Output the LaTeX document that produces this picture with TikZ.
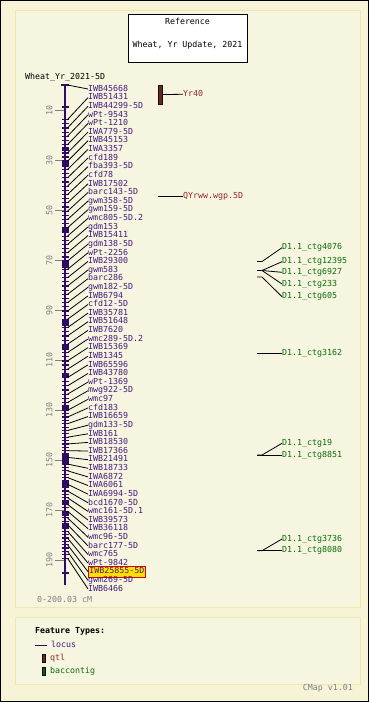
\documentclass[tikz,border=0pt]{standalone}
\usepackage{fontspec}
\setmainfont{DejaVu Sans Mono}
\definecolor{outerbg}{RGB}{246,243,214}
\definecolor{panelbg}{RGB}{245,245,224}
\definecolor{panelbd}{RGB}{238,232,170}
\definecolor{locuscol}{RGB}{48,10,100}
\definecolor{locustxt}{RGB}{70,25,125}
\definecolor{qtlcol}{RGB}{100,40,40}
\definecolor{qtltxt}{RGB}{150,40,40}
\definecolor{bacfill}{RGB}{25,80,25}
\definecolor{bactxt}{RGB}{10,110,10}
\definecolor{scalegray}{RGB}{128,128,128}
\definecolor{hlyellow}{RGB}{255,225,0}
\definecolor{hlred}{RGB}{210,0,0}
\begin{document}
\begin{tikzpicture}[x=1pt,y=-1pt,
  font=\fontsize{8.3}{10}\selectfont,
  txt/.style={inner sep=0pt,text height=6pt,text depth=1.5pt},
  loclab/.style={txt,anchor=west,text=locustxt},
  hilite/.style={fill=hlyellow,draw=hlred,line width=0.9pt,inner xsep=1pt,inner ysep=1.5pt},
  baclab/.style={txt,anchor=west,text=bactxt},
  qtllab/.style={txt,anchor=west,text=qtltxt},
  graylab/.style={txt,text=scalegray},
  conn/.style={black,line width=0.8pt},
  ltick/.style={locuscol,line width=1.2pt},
  panel/.style={draw=panelbd,fill=panelbg,line width=1pt}]
\useasboundingbox (0,0) rectangle (369,702);
% background and panels
\fill[outerbg] (0,0) rectangle (369,702);
\draw[black,line width=1.2pt] (0.6,0.6) rectangle (368.4,701.4);
\draw[panel] (15,10) rectangle (360,607);
\draw[panel] (15,617) rectangle (360,684);
% title box
\node[draw=black,fill=white,line width=1pt,minimum width=119pt,minimum height=48pt,inner sep=0pt] (title) at (187.5,38) {};
\node[txt] (tref) at (187.5,22) {Reference};
\node[txt] (tsub) at (187.5,45.5) {Wheat, Yr Update, 2021};
% map title
\node[txt,anchor=west] (mapname) at (25,77.5) {Wheat\_Yr\_2021-5D};
% scale
\foreach \v in {10,30,...,190}{
  \pgfmathsetmacro{\sy}{85+2.5*\v}
  \draw[scalegray,line width=0.8pt] (55,\sy) -- (64,\sy);
  \node[graylab,rotate=90] (s\v) at (50,\sy) {\v};
}
\node[graylab,anchor=west] (range) at (37,600.5) {0-200.03 cM};
% chromosome bar
\draw[locuscol,line width=2pt] (65,85) -- (65,585);
\draw[ltick,line width=1.5pt] (61,85) -- (69,85);
\draw[ltick] (61.5,107) -- (68.5,107);
\draw[ltick] (61.5,573) -- (68.5,573);
\foreach \a/\b in {147/151,160/167,227/233,262/268,320/326,345/350,373/378,405/411,453/463,481/487,500/504,511/516,523/528}{
  \fill[locuscol] (61.5,\a) rectangle (68.5,\b);
}
% loci and labels
\foreach \lab [count=\i] in {IWB45668,IWB51431,IWB44299-5D,wPt-9543,wPt-1210,IWA779-5D,IWB45153,IWA3357,cfd189,fba393-5D,cfd78,IWB17502,barc143-5D,gwm358-5D,gwm159-5D,wmc805-5D.2,gdm153,IWB15411,gdm138-5D,wPt-2256,IWB29300,gwm583,barc286,gwm182-5D,IWB6794,cfd12-5D,IWB35781,IWB51648,IWB7620,wmc289-5D.2,IWB15369,IWB1345,IWB65596,IWB43780,wPt-1369,mwg922-5D,wmc97,cfd183,IWB16659,gdm133-5D,IWB161,IWB18530,IWB17366,IWB21491,IWB18733,IWA6872,IWA6061,IWA6994-5D,bcd1670-5D,wmc161-5D.1,IWB39573,IWB36118,wmc96-5D,barc177-5D,wmc765,wPt-9842,IWB25855-5D,gwm269-5D,IWB6466}{
  \pgfmathsetmacro{\ly}{89+(\i-1)*8.62}
  \pgfmathsetmacro{\off}{\i==1 ? -4 : (\i<37 ? 22-0.3*(\i-2) : 11-1.9*(\i-37))}
  \pgfmathsetmacro{\py}{\ly+\off}
  \pgfmathsetmacro{\my}{\py+(\i<37 ? 4.16 : 3.36)}
  \ifnum\i>1 \draw[ltick] (61.5,\py) -- (68.5,\py); \fi
  \ifnum\i>1 \ifnum\i<59 \draw[ltick] (61.5,\my) -- (68.5,\my); \fi\fi
  \ifnum\i=57 \tikzset{curlab/.style={loclab,hilite}}\else\tikzset{curlab/.style={loclab}}\fi
  \node[curlab] (L\i) at (88,\ly) {\lab};
  \coordinate (P\i) at (67.5,\py);
  \draw[conn] (P\i) -- (L\i.west);
}
% QTLs
\node[draw=black!70!qtlcol,fill=qtlcol,line width=0.6pt,minimum width=4pt,minimum height=19pt,inner sep=0pt] (q1) at (160,94.5) {};
\node[qtllab] (yr40) at (183,94.3) {Yr40};
\draw[conn] (q1.east) -- (yr40.west);
\coordinate (q2) at (158,196.7);
\node[qtllab] (qyr) at (183,196.7) {QYrww.wgp.5D};
\draw[conn] (q2) -- (qyr.west);
% baccontigs
\coordinate (b1) at (257,261.5);
\coordinate (b2) at (257,270.5);
\coordinate (b3) at (257,277);
\coordinate (b4) at (257,353.3);
\coordinate (b5) at (257,455);
\coordinate (b6) at (257,550.7);
\node[baclab] (c4076) at (282,247.7) {D1.1\_ctg4076};
\node[baclab] (c12395) at (282,261.7) {D1.1\_ctg12395};
\node[baclab] (c6927) at (282,272.3) {D1.1\_ctg6927};
\node[baclab] (c233) at (282,284) {D1.1\_ctg233};
\node[baclab] (c605) at (282,296.7) {D1.1\_ctg605};
\node[baclab] (c3162) at (282,353.3) {D1.1\_ctg3162};
\node[baclab] (c19) at (282,443.3) {D1.1\_ctg19};
\node[baclab] (c8851) at (282,455) {D1.1\_ctg8851};
\node[baclab] (c3736) at (282,539) {D1.1\_ctg3736};
\node[baclab] (c8080) at (282,550.7) {D1.1\_ctg8080};
\draw[conn] (b1) -- ++(5,0) -- (c4076.west);
\draw[conn] (b2) -- ++(5,0) -- (c12395.west);
\draw[conn] (b2) -- ++(5,0) -- (c6927.west);
\draw[conn] (b2) -- ++(5,0) -- (c233.west);
\draw[conn] (b3) -- ++(5,0) -- (c605.west);
\draw[conn] (b4) -- (c3162.west);
\draw[conn] (b5) -- ++(5,0) -- (c19.west);
\draw[conn] (b5) -- (c8851.west);
\draw[conn] (b6) -- ++(5,0) -- (c3736.west);
\draw[conn] (b6) -- (c8080.west);
% legend
\node[txt,anchor=west,font=\fontsize{8.3}{10}\selectfont\bfseries] (ft) at (35,631.5) {Feature Types:};
\draw[locuscol,line width=1pt] (35,645) -- (47,645);
\node[loclab] (lglocus) at (51,645) {locus};
\node[draw=black!70!qtlcol,fill=qtlcol,line width=0.5pt,minimum width=3pt,minimum height=8pt,inner sep=0pt] (lgqbox) at (44,658) {};
\node[qtllab] (lgqtl) at (50,658) {qtl};
\node[draw=black!70!bacfill,fill=bacfill,line width=0.5pt,minimum width=3pt,minimum height=8pt,inner sep=0pt] (lgbbox) at (44,671) {};
\node[baclab] (lgbac) at (50,671) {baccontig};
\node[graylab,anchor=east] (ver) at (353,688) {CMap v1.01};
\end{tikzpicture}
\end{document}
